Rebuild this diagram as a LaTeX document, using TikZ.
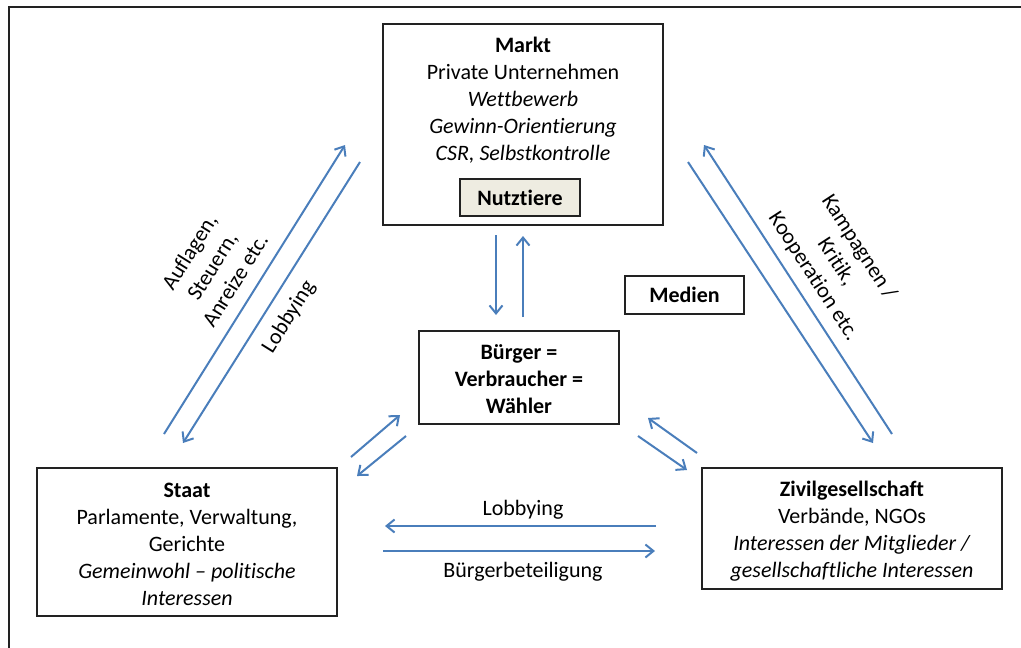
\documentclass[tikz,border=0pt]{standalone}
\usepackage{fontspec}
\setmainfont{Carlito}[Ligatures={NoCommon}]
\usetikzlibrary{arrows.meta}
\definecolor{flow}{HTML}{4A7EBB}
\definecolor{tagfill}{HTML}{EEECE1}
\definecolor{frameline}{HTML}{222222}

\begin{document}
\begin{tikzpicture}[x=1pt,y=-1pt,
  every node/.style={font=\fontsize{22}{27}\selectfont, inner sep=0pt, outer sep=0pt},
  panel/.style={draw=frameline, line width=1.5pt, rectangle},
  tag/.style={panel, fill=tagfill, font=\fontsize{22}{27}\selectfont\bfseries},
  txt/.style={align=center},
  flowarrow/.style={draw=flow, line width=2pt, -{Straight Barb[length=8pt,width=13pt,line width=2pt]}}
]
\useasboundingbox (0,0) rectangle (1021,648);

% outer frame (left and top edges)
\draw[frameline, line width=2pt] (8.5,648) -- (8.5,6.5) -- (1021,6.5);

% main boxes
\node[panel, minimum width=280pt, minimum height=201pt] (markt) at (523,124.5) {};
\node[panel, minimum width=300pt, minimum height=148pt] (staat) at (187,542) {};
\node[panel, minimum width=300pt, minimum height=121pt] (zivil) at (852,528.5) {};
\node[panel, minimum width=200pt, minimum height=93pt] (buerger) at (519,377.5) {};
\node[tag, minimum width=120pt, minimum height=37pt] (nutztiere) at (520,197.5) {Nutztiere};
\node[panel, minimum width=119pt, minimum height=38pt, font=\fontsize{22}{27}\selectfont\bfseries] (medien) at (684.5,295) {Medien};

% box texts
\node[txt] (markttext) at (523,100) {\textbf{Markt}\\Private Unternehmen\\\textit{Wettbewerb}\\\textit{Gewinn-Orientierung}\\\textit{CSR, Selbstkontrolle}};
\node[txt] (staattext) at (187,544.5) {\textbf{Staat}\\Parlamente, Verwaltung,\\Gerichte\\\textit{Gemeinwohl – politische}\\\textit{Interessen}};
\node[txt] (ziviltext) at (852,531) {\textbf{Zivilgesellschaft}\\Verbände, NGOs\\\textit{Interessen der Mitglieder /}\\\textit{gesellschaftliche Interessen}};
\node[txt, font=\fontsize{22}{27}\selectfont\bfseries] (buergertext) at (519,379) {Bürger =\\Verbraucher =\\Wähler};

% arrow end points
\coordinate (sm1) at (164,434);  \coordinate (sm2) at (345,145);
\coordinate (ms1) at (360,162);  \coordinate (ms2) at (183,443);
\coordinate (zm1) at (892,434);  \coordinate (zm2) at (704,145);
\coordinate (mz1) at (688,162);  \coordinate (mz2) at (873,443);
\coordinate (mb1) at (496,235);  \coordinate (mb2) at (496,315);
\coordinate (bm1) at (523,317);  \coordinate (bm2) at (523,236);
\coordinate (sb1) at (351,457);  \coordinate (sb2) at (400,415);
\coordinate (bs1) at (406,436);  \coordinate (bs2) at (357,476);
\coordinate (zb1) at (697,453);  \coordinate (zb2) at (648,418);
\coordinate (bz1) at (638,436);  \coordinate (bz2) at (687,470);
\coordinate (zs1) at (656,526);  \coordinate (zs2) at (385,526);
\coordinate (sz1) at (383,551);  \coordinate (sz2) at (655,551);

% connectors
\draw[flowarrow] (sm1) -- (sm2);
\draw[flowarrow] (ms1) -- (ms2);
\draw[flowarrow] (zm1) -- (zm2);
\draw[flowarrow] (mz1) -- (mz2);
\draw[flowarrow] (mb1) -- (mb2);
\draw[flowarrow] (bm1) -- (bm2);
\draw[flowarrow] (sb1) -- (sb2);
\draw[flowarrow] (bs1) -- (bs2);
\draw[flowarrow] (zb1) -- (zb2);
\draw[flowarrow] (bz1) -- (bz2);
\draw[flowarrow] (zs1) -- (zs2);
\draw[flowarrow] (sz1) -- (sz2);

% connector labels
\node[txt, rotate=58] (lblauflagen) at (212,266) {Auflagen,\\Steuern,\\Anreize etc.};
\node[txt, rotate=58] (lbllobby1) at (289,317) {Lobbying};
\node[txt, rotate=-57] (lblkampagnen) at (836,262) {Kampagnen /\\Kritik,\\Kooperation etc.};
\node[txt] (lbllobby2) at (523,510) {Lobbying};
\node[txt] (lblbeteiligung) at (523,572) {Bürgerbeteiligung};
\end{tikzpicture}
\end{document}
